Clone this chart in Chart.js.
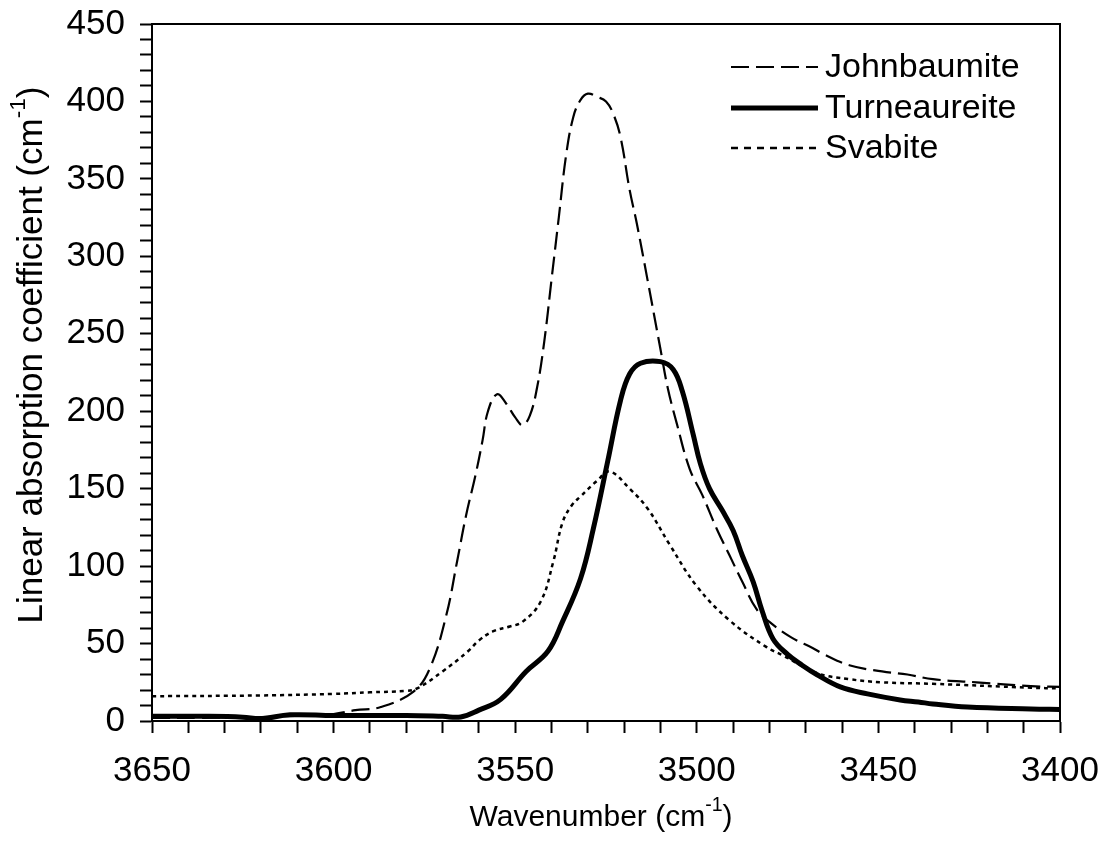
<!DOCTYPE html>
<html>
<head>
<meta charset="utf-8">
<script src="https://cdn.jsdelivr.net/npm/chart.js@4.4.0/dist/chart.umd.min.js"></script>
<style>
  html, body { margin: 0; padding: 0; background: #fff; }
  #wrap { width: 1104px; height: 865px; }
</style>
</head>
<body>
<div id="wrap"><canvas id="irChart" width="1104" height="865"></canvas></div>
<script>
// tick labels
const xTickLabels = [3650, 3600, 3550, 3500, 3450, 3400];
const yTickLabels = [0, 50, 100, 150, 200, 250, 300, 350, 400, 450];

// Johnbaumite (dashed)
const jbWn = [3650, 3637, 3620, 3609, 3600, 3594, 3587, 3578, 3573.5, 3569, 3566, 3563.5, 3561, 3559, 3557.5, 3555, 3552.5, 3550, 3548, 3546, 3544, 3542, 3540, 3538, 3536, 3534, 3532, 3530, 3527.5, 3525, 3523, 3521, 3518.5, 3516.5, 3513.5, 3510, 3508, 3505.5, 3502, 3498.5, 3494.5, 3491, 3487.5, 3483.5, 3480, 3474, 3468, 3465, 3458, 3449, 3442, 3435, 3423, 3408, 3400];
const jbVal = [2, 2, 2.5, 3.5, 4.5, 7, 9, 19, 34, 68, 103, 133, 158, 181, 200, 211, 205, 196, 191, 197, 215, 245, 285, 325, 365, 390, 401, 405, 403, 400, 392, 377, 343, 321, 284, 240, 215, 192, 163, 146, 124, 107, 90, 72, 64, 54, 47, 43, 36, 32, 30, 27, 25, 22.5, 22];

// Turneaureite (thick solid)
const tuWn = [3650, 3635, 3625, 3620, 3612, 3600, 3580, 3570, 3565, 3560, 3554, 3547, 3541, 3537, 3532, 3528.5, 3524.5, 3521, 3518.5, 3515.5, 3510, 3506.5, 3504, 3501, 3499, 3496.5, 3493, 3490, 3487.5, 3484.5, 3482, 3479, 3475, 3471, 3467, 3460.5, 3453, 3444, 3439, 3435, 3425.5, 3408, 3400];
const tuVal = [3, 3, 2.5, 1.5, 4, 3.5, 3.5, 3, 2.6, 7, 14, 32, 45, 64, 92, 124, 168, 207, 224, 231, 232, 227, 213, 185, 166, 150, 136, 123, 107, 90, 71, 53, 43, 36, 30, 22, 17.5, 13.6, 12.3, 11, 9, 7.8, 7.5];

// Svabite (dotted)
const svWn = [3650, 3620, 3600, 3590, 3580, 3577, 3570, 3563, 3560, 3556, 3551.5, 3548, 3543, 3539.5, 3537, 3534.5, 3532, 3527.5, 3524, 3518.5, 3513.5, 3507.5, 3500, 3491, 3481, 3476, 3467, 3458, 3449, 3435, 3408, 3400];
const svVal = [16, 16.5, 17.5, 18.5, 19.5, 21, 32, 45, 52, 58, 61, 64, 77, 103, 128, 139, 145, 155, 161, 150, 137, 114, 87, 65, 48, 42, 31, 27, 25, 24, 21.5, 21];

const FONT = '"Liberation Sans", Arial, sans-serif';

function toPoints(wn, val) {
    return wn.map((w, i) => ({ x: w, y: val[i] }));
}

// minor ticks every 10 units, labels only at the listed values
function tickList(labels) {
    const out = [];
    const lo = Math.min(...labels), hi = Math.max(...labels);
    for (let v = lo; v <= hi; v += 10) out.push({ value: v });
    return out;
}

function drawSupText(ctx, main, sup, tail, size, x, y, rotate) {
    ctx.save();
    ctx.translate(x, y);
    if (rotate) ctx.rotate(-Math.PI / 2);
    const small = size * 0.65;
    ctx.font = `${size}px ${FONT}`;
    const w1 = ctx.measureText(main).width;
    const w3 = ctx.measureText(tail).width;
    ctx.font = `${small}px ${FONT}`;
    const w2 = ctx.measureText(sup).width;
    let cx = -(w1 + w2 + w3) / 2;
    ctx.fillStyle = '#000';
    ctx.textAlign = 'left';
    ctx.textBaseline = 'alphabetic';
    ctx.font = `${size}px ${FONT}`;
    ctx.fillText(main, cx, 0);
    cx += w1;
    ctx.font = `${small}px ${FONT}`;
    ctx.fillText(sup, cx, -size * 0.5);
    cx += w2;
    ctx.font = `${size}px ${FONT}`;
    ctx.fillText(tail, cx, 0);
    ctx.restore();
}

const extrasPlugin = {
    id: 'extras',
    afterDraw(chart) {
        const { ctx, chartArea: a } = chart;
        ctx.save();
        // top and right frame
        ctx.strokeStyle = '#000';
        ctx.lineWidth = 2;
        ctx.setLineDash([]);
        ctx.beginPath();
        ctx.moveTo(a.left, a.top);
        ctx.lineTo(a.right, a.top);
        ctx.lineTo(a.right, a.bottom);
        ctx.stroke();

        // axis titles
        drawSupText(ctx, 'Wavenumber (cm', '-1', ')', 30, (a.left + a.right) / 2 - 5, 826, false);
        drawSupText(ctx, 'Linear absorption coefficient (cm', '-1', ')', 35, 42, 355, true);

        // legend
        const rows = [67, 108, 148];
        const legendDash = [[18, 7], [], [7, 6]];
        chart.data.datasets.forEach((ds, i) => {
            const y = rows[i];
            ctx.strokeStyle = '#000';
            ctx.lineWidth = ds.borderWidth;
            ctx.setLineDash(legendDash[i]);
            ctx.beginPath();
            ctx.moveTo(731, y);
            ctx.lineTo(818, y);
            ctx.stroke();
            ctx.setLineDash([]);
            ctx.fillStyle = '#000';
            ctx.font = `34px ${FONT}`;
            ctx.textAlign = 'left';
            ctx.textBaseline = 'middle';
            ctx.fillText(ds.label, 825, y + 1);
        });
        ctx.restore();
    }
};

// drop the label overflow padding so the plot area sits where the layout puts it
function noPad(s) {
    s.paddingTop = 0;
    s.paddingBottom = 0;
    s.paddingLeft = 0;
    s.paddingRight = 0;
}

const ctx = document.getElementById('irChart').getContext('2d');

const irChart = new Chart(ctx, {
    type: 'line',
    data: {
        datasets: [
            {
                label: 'Johnbaumite',
                data: toPoints(jbWn, jbVal),
                borderColor: '#000',
                borderWidth: 2.2,
                borderDash: [18, 7],
                pointRadius: 0,
                fill: false,
                tension: 0.4
            },
            {
                label: 'Turneaureite',
                data: toPoints(tuWn, tuVal),
                borderColor: '#000',
                borderWidth: 5,
                pointRadius: 0,
                fill: false,
                tension: 0.4
            },
            {
                label: 'Svabite',
                data: toPoints(svWn, svVal),
                borderColor: '#000',
                borderWidth: 2.5,
                borderDash: [4, 4],
                pointRadius: 0,
                fill: false,
                tension: 0.4
            }
        ]
    },
    options: {
        responsive: false,
        animation: false,
        devicePixelRatio: 1,
        layout: { padding: { top: 24, right: 44, left: 0, bottom: 0 } },
        plugins: {
            legend: { display: false },
            tooltip: { enabled: false }
        },
        scales: {
            x: {
                type: 'linear',
                reverse: true,
                min: 3400,
                max: 3650,
                afterBuildTicks: s => { s.ticks = tickList(xTickLabels); },
                afterFit: s => { s.height = 144; noPad(s); },
                grid: {
                    drawOnChartArea: false,
                    drawTicks: true,
                    tickLength: 12,
                    tickColor: '#000',
                    tickWidth: 2
                },
                border: { display: true, color: '#000', width: 2 },
                ticks: {
                    autoSkip: false,
                    maxRotation: 0,
                    minRotation: 0,
                    padding: 17,
                    color: '#000',
                    font: { family: FONT, size: 35 },
                    callback: v => xTickLabels.includes(v) ? String(v) : ''
                }
            },
            y: {
                type: 'linear',
                min: 0,
                max: 450,
                afterBuildTicks: s => { s.ticks = tickList(yTickLabels); },
                afterFit: s => { s.width = 152; noPad(s); },
                grid: {
                    drawOnChartArea: false,
                    drawTicks: true,
                    tickLength: 12,
                    tickColor: '#000',
                    tickWidth: 2
                },
                border: { display: true, color: '#000', width: 2 },
                ticks: {
                    autoSkip: false,
                    padding: 15,
                    color: '#000',
                    font: { family: FONT, size: 35 },
                    callback: v => yTickLabels.includes(v) ? String(v) : ''
                }
            }
        }
    },
    plugins: [extrasPlugin]
});
</script>
</body>
</html>
